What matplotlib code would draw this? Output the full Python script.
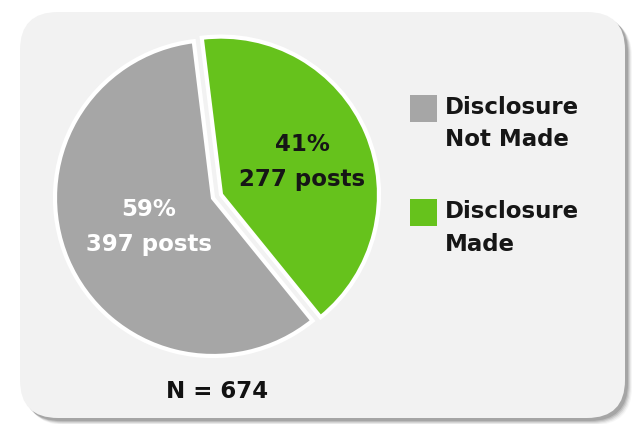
import matplotlib.pyplot as plt
from matplotlib.patches import FancyBboxPatch, Rectangle
import numpy as np

labels = ['Disclosure\nNot Made', 'Disclosure\nMade']
posts = [397, 277]
colors = ['#a6a6a6', '#66c21c']
text_colors = ['white', '#161616']

W, H = 638, 424
plt.rcParams['font.family'] = ['DejaVu Sans']

fig = plt.figure(figsize=(W / 100, H / 100), dpi=100)
ax = fig.add_axes([0, 0, 1, 1])

# rounded panel with a soft shadow on the right / bottom
box = dict(boxstyle='round,pad=0,rounding_size=38', ec='none')
for off, a in [(7, 0.06), (6, 0.10), (5, 0.16), (4, 0.22), (3, 0.30)]:
    ax.add_patch(FancyBboxPatch((20 + off, 6 - off), 605, 406, fc='#6e6e6e', alpha=a, **box))
ax.add_patch(FancyBboxPatch((20, 6), 605, 406, fc='#f2f2f2', **box))

R = 158
cx, cy = 213, H - 198
start = 97
wedges, _ = ax.pie(posts, colors=colors, startangle=start, radius=R, center=(cx, cy),
                   explode=[0, 0.055 * R],
                   wedgeprops=dict(edgecolor='white', linewidth=3))

total = sum(posts)
fracs = np.array(posts) / total
mids = start + 360 * (np.cumsum(fracs) - fracs / 2)
dists = [0.44, 0.56]
for w, v, m, d, tc in zip(wedges, posts, mids, dists, text_colors):
    wx, wy = w.center
    tx = wx + d * R * np.cos(np.radians(m))
    ty = wy + d * R * np.sin(np.radians(m))
    ax.text(tx, ty + 9, f"{round(100 * v / total)}%", color=tc, fontsize=16.5,
            fontweight='bold', ha='center', va='baseline')
    ax.text(tx, ty - 26, f"{v} posts", color=tc, fontsize=16.5,
            fontweight='bold', ha='center', va='baseline')

ax.text(217, H - 398, f"N = {total}", fontsize=16.5, fontweight='bold',
        ha='center', va='baseline', color='#111111')

# legend
for i, (lab, c) in enumerate(zip(labels, colors)):
    top = 95 + i * 104
    ax.add_patch(Rectangle((410, H - top - 27), 27, 27, fc=c, ec='none'))
    for j, line in enumerate(lab.split('\n')):
        ax.text(445, H - (114 + i * 104.5 + j * 32.5), line, fontsize=16.5,
                fontweight='bold', ha='left', va='baseline', color='#161616')

ax.set_xlim(0, W)
ax.set_ylim(0, H)
ax.set_aspect('equal')
ax.axis('off')

fig.savefig('out.png', dpi=100, facecolor='white')
